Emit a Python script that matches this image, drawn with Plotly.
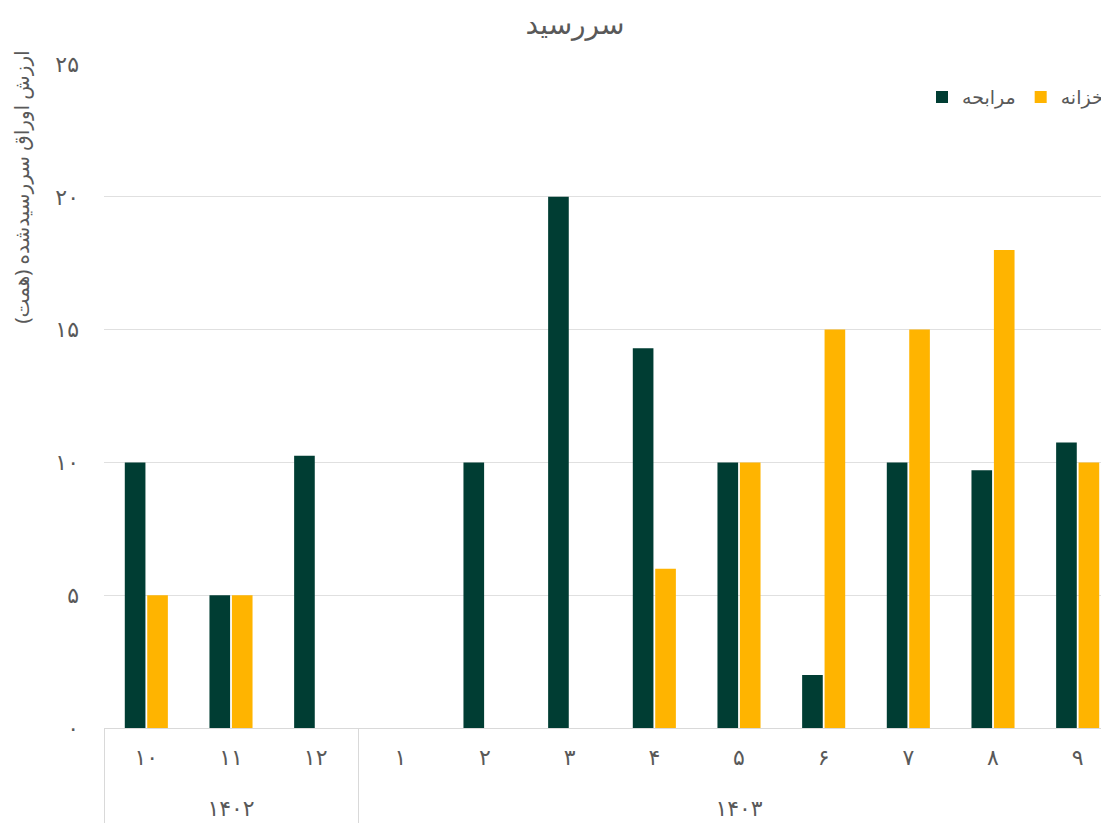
import plotly.graph_objects as go

years = ["۱۴۰۲"] * 3 + ["۱۴۰۳"] * 9
months = ["۱۰", "۱۱", "۱۲", "۱", "۲", "۳", "۴", "۵", "۶", "۷", "۸", "۹"]

murabaha = [10, 5, 10.25, 0, 10, 20, 14.3, 10, 2, 10, 9.7, 10.75]
khazaneh = [5, 5, 0, 0, 0, 0, 6, 10, 15, 15, 18, 10]

y_ticks = [0, 5, 10, 15, 20, 25]
y_tick_text = ["۰", "۵", "۱۰", "۱۵", "۲۰", "۲۵"]

font_family = "Noto Sans, DejaVu Sans, sans-serif"
grey = "#595959"

# extra blank line under each month pushes the year row down
month_labels = [m + "<br> " for m in months]

fig = go.Figure()

fig.add_trace(go.Bar(
    x=[years, month_labels], y=murabaha,
    name="مرابحه",
    marker=dict(color="#003d33", line=dict(width=0)),
))
fig.add_trace(go.Bar(
    x=[years, month_labels], y=khazaneh,
    name="خزانه",
    marker=dict(color="#ffb400", line=dict(width=0)),
))

# page body has an 8px margin, so the figure is 8px smaller each way
fig.update_layout(
    width=1101, height=819,
    margin=dict(l=96, r=0, t=56, b=99, autoexpand=False),
    paper_bgcolor="white", plot_bgcolor="white",
    font=dict(family=font_family, color=grey, size=16),
    title=dict(text="سررسید", x=0.515, xanchor="center", y=0.98, yanchor="middle",
               font=dict(size=28, color=grey)),
    barmode="group",
    bargap=0.47,
    bargroupgap=0.08,
    showlegend=True,
    legend=dict(orientation="h", x=1.0, xanchor="right", y=0.95, yanchor="middle",
                font=dict(size=19, color=grey), traceorder="normal"),
    xaxis=dict(
        type="multicategory",
        automargin=False,
        range=[-0.5, 11.37],
        showgrid=False,
        showline=True, linecolor="#d9d9d9", linewidth=1,
        showdividers=True, dividercolor="#d9d9d9", dividerwidth=1,
        tickfont=dict(size=22, color=grey),
        ticklabelstandoff=10,
        ticks="",
    ),
    yaxis=dict(
        automargin=False,
        range=[0, 25],
        tickvals=y_ticks, ticktext=y_tick_text,
        showgrid=True, gridcolor="#e0e0e0", gridwidth=1,
        zeroline=False,
        tickfont=dict(size=22, color=grey),
        ticklabelstandoff=24,
    ),
    annotations=[dict(
        text="ارزش اوراق سررسیدشده (همت)",
        xref="paper", yref="paper", x=-0.082, y=0.815,
        xanchor="center", yanchor="middle", textangle=-90,
        showarrow=False, font=dict(size=20, color=grey),
    )],
)

fig.write_html("out.html")
